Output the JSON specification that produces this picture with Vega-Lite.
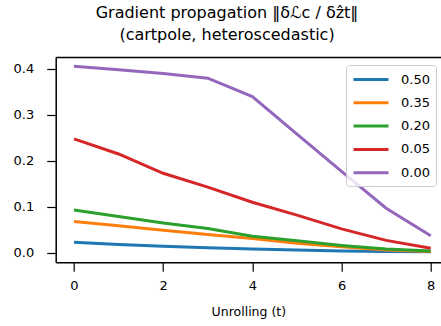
{
  "$schema": "https://vega.github.io/schema/vega-lite/v6.json",
  "width": 385.3,
  "height": 205.3,
  "autosize": {"type": "none"},
  "padding": {"left": 55.7, "top": 57, "right": 0, "bottom": 63.7},
  "background": "white",
  "config": {
    "font": "DejaVu Sans",
    "view": {"stroke": null},
    "axis": {"grid": false, "domain": true, "domainColor": "black", "domainWidth": 1.5, "tickColor": "black", "tickSize": 9, "tickWidth": 1.2, "labelColor": "black", "labelFontSize": 13, "titleFontSize": 12.5, "titleFontWeight": "normal", "titleColor": "black", "labelFont": "DejaVu Sans", "titleFont": "DejaVu Sans"}
  },
  "title": {
    "text": ["Gradient propagation ‖δℒc / δẑt‖", "(cartpole, heteroscedastic)"],
    "fontSize": 16,
    "fontWeight": "normal",
    "font": "DejaVu Sans",
    "color": "black",
    "anchor": "middle",
    "frame": "bounds",
    "offset": 14,
    "lineHeight": 22
  },
  "data": {
    "values": [
      {"t": 0, "v": 0.023, "s": "0.50"}, {"t": 1, "v": 0.018, "s": "0.50"}, {"t": 2, "v": 0.014, "s": "0.50"}, {"t": 3, "v": 0.011, "s": "0.50"}, {"t": 4, "v": 0.008, "s": "0.50"}, {"t": 5, "v": 0.006, "s": "0.50"}, {"t": 6, "v": 0.004, "s": "0.50"}, {"t": 7, "v": 0.003, "s": "0.50"}, {"t": 8, "v": 0.002, "s": "0.50"},
      {"t": 0, "v": 0.068, "s": "0.35"}, {"t": 1, "v": 0.059, "s": "0.35"}, {"t": 2, "v": 0.049, "s": "0.35"}, {"t": 3, "v": 0.04, "s": "0.35"}, {"t": 4, "v": 0.031, "s": "0.35"}, {"t": 5, "v": 0.021, "s": "0.35"}, {"t": 6, "v": 0.013, "s": "0.35"}, {"t": 7, "v": 0.006, "s": "0.35"}, {"t": 8, "v": 0.003, "s": "0.35"},
      {"t": 0, "v": 0.093, "s": "0.20"}, {"t": 1, "v": 0.079, "s": "0.20"}, {"t": 2, "v": 0.065, "s": "0.20"}, {"t": 3, "v": 0.053, "s": "0.20"}, {"t": 4, "v": 0.036, "s": "0.20"}, {"t": 5, "v": 0.026, "s": "0.20"}, {"t": 6, "v": 0.016, "s": "0.20"}, {"t": 7, "v": 0.008, "s": "0.20"}, {"t": 8, "v": 0.004, "s": "0.20"},
      {"t": 0, "v": 0.248, "s": "0.05"}, {"t": 1, "v": 0.215, "s": "0.05"}, {"t": 2, "v": 0.173, "s": "0.05"}, {"t": 3, "v": 0.143, "s": "0.05"}, {"t": 4, "v": 0.11, "s": "0.05"}, {"t": 5, "v": 0.082, "s": "0.05"}, {"t": 6, "v": 0.052, "s": "0.05"}, {"t": 7, "v": 0.027, "s": "0.05"}, {"t": 8, "v": 0.01, "s": "0.05"},
      {"t": 0, "v": 0.406, "s": "0.00"}, {"t": 1, "v": 0.398, "s": "0.00"}, {"t": 2, "v": 0.39, "s": "0.00"}, {"t": 3, "v": 0.38, "s": "0.00"}, {"t": 4, "v": 0.34, "s": "0.00"}, {"t": 5, "v": 0.258, "s": "0.00"}, {"t": 6, "v": 0.177, "s": "0.00"}, {"t": 7, "v": 0.097, "s": "0.00"}, {"t": 8, "v": 0.037, "s": "0.00"}
    ]
  },
  "layer": [
    {
      "mark": {"type": "line", "strokeWidth": 3, "clip": true},
      "encoding": {
        "x": {"field": "t", "type": "quantitative", "title": "Unrolling (t)", "scale": {"domain": [-0.41, 8.23], "nice": false, "zero": false}, "axis": {"values": [0, 2, 4, 6, 8], "labelPadding": 8, "titlePadding": 13}},
        "y": {"field": "v", "type": "quantitative", "title": null, "scale": {"domain": [-0.0207, 0.426], "nice": false, "zero": false}, "axis": {"values": [0, 0.1, 0.2, 0.3, 0.4], "format": ".1f", "labelPadding": 13}},
        "color": {
          "field": "s", "type": "nominal", "title": null,
          "scale": {"domain": ["0.50", "0.35", "0.20", "0.05", "0.00"], "range": ["#1f77b4", "#ff7f0e", "#2ca02c", "#d62728", "#9467bd"]},
          "sort": ["0.50", "0.35", "0.20", "0.05", "0.00"],
          "legend": {"orient": "none", "legendX": 290.3, "legendY": 8, "symbolType": "M-1,0H4", "symbolSize": 196, "symbolStrokeWidth": 3, "labelFontSize": 13, "labelColor": "black", "labelOffset": 32, "padding": 6, "rowPadding": 7.3, "strokeColor": "#cccccc", "fillColor": "rgba(255,255,255,0.8)", "cornerRadius": 3}
        }
      }
    },
    {
      "mark": {"type": "rule", "opacity": 0},
      "encoding": {
        "x": {"field": "t", "type": "quantitative", "axis": {"orient": "top", "labels": false, "ticks": false, "title": null, "domain": true}}
      }
    }
  ],
  "resolve": {"axis": {"x": "independent"}}
}
